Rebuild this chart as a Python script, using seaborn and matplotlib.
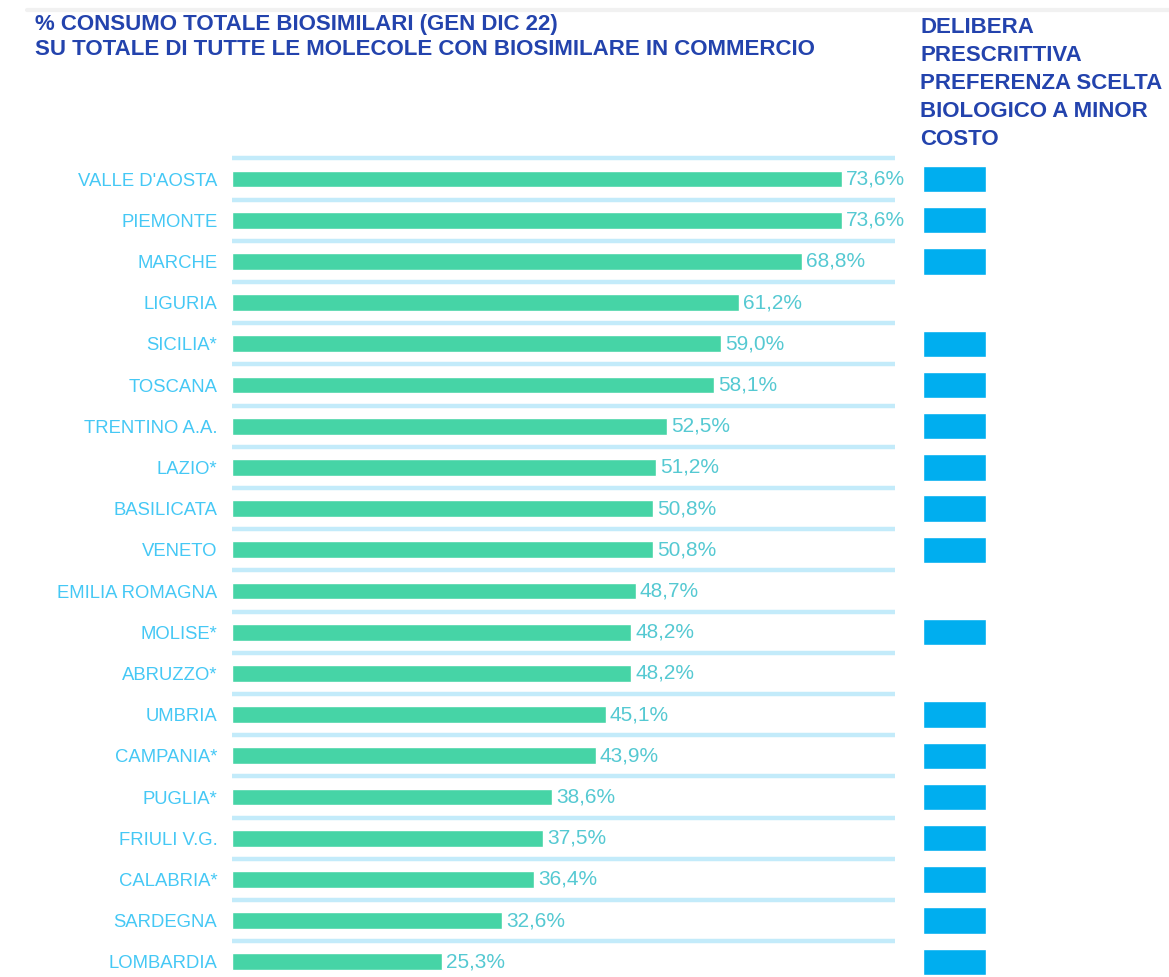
import matplotlib
matplotlib.use("Agg")
import matplotlib.pyplot as plt
import seaborn as sns
import pandas as pd
from matplotlib.lines import Line2D

# data
regions = ["VALLE D'AOSTA", "PIEMONTE", "MARCHE", "LIGURIA", "SICILIA*", "TOSCANA",
           "TRENTINO A.A.", "LAZIO*", "BASILICATA", "VENETO", "EMILIA ROMAGNA",
           "MOLISE*", "ABRUZZO*", "UMBRIA", "CAMPANIA*", "PUGLIA*", "FRIULI V.G.",
           "CALABRIA*", "SARDEGNA", "LOMBARDIA"]
consumo = [73.6, 73.6, 68.8, 61.2, 59.0, 58.1, 52.5, 51.2, 50.8, 50.8, 48.7,
           48.2, 48.2, 45.1, 43.9, 38.6, 37.5, 36.4, 32.6, 25.3]
delibera = [1, 1, 1, 0, 1, 1, 1, 1, 1, 1, 0, 1, 0, 1, 1, 1, 1, 1, 1, 1]

title_lines = ["% CONSUMO TOTALE BIOSIMILARI (GEN DIC 22)",
               "SU TOTALE DI TUTTE LE MOLECOLE CON BIOSIMILARE IN COMMERCIO"]
header_lines = ["DELIBERA", "PRESCRITTIVA", "PREFERENZA SCELTA",
                "BIOLOGICO A MINOR", "COSTO"]

df = pd.DataFrame({"regione": regions, "consumo": consumo, "delibera": delibera})

sns.set_theme(style="white")
plt.rcParams['font.family'] = ['Liberation Sans', 'DejaVu Sans']

W, H = 1169, 977
fig = plt.figure(figsize=(W / 100, H / 100), dpi=100)

TITLE_COL = "#2343ad"
LABEL_COL = "#45c8f5"
VALUE_COL = "#55c9d2"
BAR_COL = "#46d4a6"
FLAG_COL = "#00aeef"
SEP_COL = "#c3ebfa"

# row geometry in pixels
row0, pitch = 179, 41.2
top_px = 140
ylim = ((H - row0) / pitch, -(row0 - top_px) / pitch)
ax_bottom, ax_height = 0, (H - top_px) / H

ax = fig.add_axes([232 / W, ax_bottom, (895 - 232) / W, ax_height])
sns.barplot(data=df, x="consumo", y="regione", orient="h", color=BAR_COL,
            saturation=1, width=0.41, ax=ax)
ax.set_xlim(0, 80)
ax.set_ylim(*ylim)
for i in range(len(regions)):
    ax.axhline(i - 0.5, color=SEP_COL, lw=3.2, zorder=0)
labels = [f"{v:.1f}%".replace(".", ",") for v in consumo]
ax.bar_label(ax.containers[0], labels=labels, padding=3, fontsize=15,
             color=VALUE_COL, clip_on=False)
ax.set_xlabel("")
ax.set_ylabel("")
ax.set_xticks([])
ax.tick_params(axis="y", length=0, pad=10.5, labelsize=13.3, labelcolor=LABEL_COL)
sns.despine(ax=ax, left=True, bottom=True)

# delibera column
ax2 = fig.add_axes([923 / W, ax_bottom, 63 / W, ax_height])
sns.barplot(data=df, x="delibera", y="regione", orient="h", color=FLAG_COL,
            saturation=1, width=0.64, ax=ax2)
ax2.set_xlim(0, 1)
ax2.set_ylim(*ylim)
ax2.axis("off")

# titles
fig.add_artist(Line2D([27 / W, 1], [1 - 10 / H] * 2, color="#f1f1f1", lw=3))
for k, line in enumerate(title_lines):
    fig.text(35 / W, 1 - (30 + 25 * k) / H, line, fontsize=16, fontweight="bold",
             color=TITLE_COL, va="baseline", ha="left")
for k, line in enumerate(header_lines):
    fig.text(920 / W, 1 - (33 + 28 * k) / H, line, fontsize=16, fontweight="bold",
             color=TITLE_COL, va="baseline", ha="left")

fig.savefig("out.png", dpi=100, facecolor="white")
